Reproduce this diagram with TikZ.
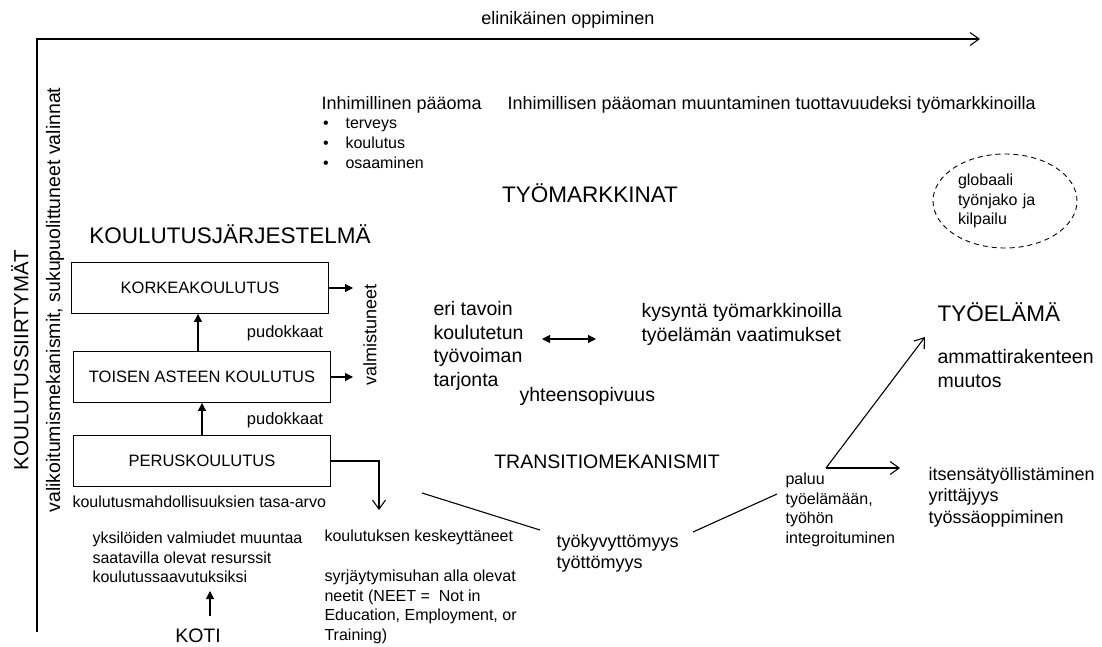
\documentclass[tikz,border=0pt]{standalone}
\usepackage{fontspec}
\setmainfont{Liberation Sans}
\usetikzlibrary{arrows.meta,shapes.geometric}

\begin{document}
\begin{tikzpicture}[x=1pt, y=-1pt, line width=1.1pt,
    txtsmall/.style={font=\fontsize{16}{19.5}\selectfont, inner sep=0pt},
    txtmid/.style={font=\fontsize{18}{21.5}\selectfont, inner sep=0pt},
    txtbig/.style={font=\fontsize{19.5}{23.5}\selectfont, inner sep=0pt},
    txthead/.style={font=\fontsize{22.5}{27}\selectfont, inner sep=0pt},
    level/.style={draw, line width=0.9pt, font=\fontsize{16.5}{19.5}\selectfont,
      minimum width=257pt, minimum height=51pt},
    solid tip/.style={-{Triangle[length=8pt,width=8pt]}},
    open tip/.style={-{Straight Barb[length=9pt,width=13pt]}}]
  \useasboundingbox (0,0) rectangle (1102,647);

  %% frame and lifelong learning axis
  \coordinate (corner) at (37,39);
  \coordinate (frameEnd) at (37,632);
  \coordinate (lifeEnd) at (980,39);
  \draw[open tip] (frameEnd) -- (corner) -- (lifeEnd);
  \node[txtmid, anchor=base] (life) at (568,25) {elinikäinen oppiminen};
  \node[txtbig, rotate=90, font=\fontsize{20.5}{24}\selectfont] (siirt) at (20,360) {KOULUTUSSIIRTYMÄT};
  \node[txtbig, rotate=90] (valik) at (55,300) {valikoitumismekanismit, sukupuolittuneet valinnat};

  %% human capital
  \node[txtmid, anchor=base west] (hcap) at (321,110) {Inhimillinen pääoma};
  \node[txtmid, anchor=base west] (convert) at (507,110) {Inhimillisen pääoman muuntaminen tuottavuudeksi työmarkkinoilla};
  \foreach \t [count=\i] in {terveys,koulutus,osaaminen} {
    \node[txtsmall, anchor=base] (dot\i) at (326,{108.5+20*\i}) {\textbullet};
    \node[txtsmall, anchor=base west] (item\i) at (345,{108.5+20*\i}) {\t};
  }
  \node[txthead, anchor=base] (market) at (590,203) {TYÖMARKKINAT};
  \node[draw, ellipse, dash pattern=on 5pt off 4pt, line width=0.9pt, txtsmall, align=left,
    text width=94pt, minimum width=144pt, minimum height=94pt] (glob) at (1005,201) {globaali\\työnjako ja\\kilpailu};

  %% education system
  \node[txthead, anchor=base] (system) at (230,243) {KOULUTUSJÄRJESTELMÄ};
  \node[level] (kork) at (200,288) {KORKEAKOULUTUS};
  \node[level] (toinen) at (202,377) {TOISEN ASTEEN KOULUTUS};
  \node[level] (perus) at (202,461) {PERUSKOULUTUS};
  \draw[solid tip] ([xshift=-4pt]toinen.north) -- ([xshift=-4pt]toinen.north |- kork.south);
  \draw[solid tip] (perus.north) -- (perus.north |- toinen.south);
  \node[txtsmall, font=\fontsize{16.5}{19.5}\selectfont] (drop1) at (285,333) {pudokkaat};
  \node[txtsmall, font=\fontsize{16.5}{19.5}\selectfont] (drop2) at (285,420) {pudokkaat};
  \node[txtmid, rotate=90] (grad) at (370,335) {valmistuneet};
  \coordinate (gradL) at (353,335);
  \draw[solid tip] (kork.east) -- (kork.east -| gradL);
  \draw[solid tip] (toinen.east) -- (toinen.east -| gradL);
  \coordinate (dropEnd) at (379,510);
  \draw[open tip] (perus.east) -| (dropEnd);
  \node[txtsmall, anchor=west] (equal) at (72,502) {koulutusmahdollisuuksien tasa-arvo};
  \node[txtsmall, anchor=north west, align=left] (indiv) at (92,531.5) {yksilöiden valmiudet muuntaa\\saatavilla olevat resurssit\\koulutussaavutuksiksi};
  \node[txtbig, anchor=base] (koti) at (198,642) {KOTI};
  \coordinate (kotiTip) at (210,591);
  \draw[solid tip] ([yshift=12pt]koti.north -| kotiTip) -- (kotiTip);

  %% dropping out
  \node[txtsmall, anchor=west] (quit) at (324,537) {koulutuksen keskeyttäneet};
  \node[txtsmall, anchor=north west, align=left] (neet) at (324,569.5) {syrjäytymisuhan alla olevat\\neetit (NEET = \ Not in\\Education, Employment, or\\Training)};

  %% matching on the labour market
  \node[txtbig, anchor=north west, align=left] (supply) at (433,301) {eri tavoin\\koulutetun\\työvoiman\\tarjonta};
  \node[txtbig, anchor=north west, align=left] (demand) at (641,303) {kysyntä työmarkkinoilla\\työelämän vaatimukset};
  \coordinate (fitL) at (542,339);
  \coordinate (fitR) at (596,339);
  \draw[{Triangle[length=8pt,width=8pt]}-{Triangle[length=8pt,width=8pt]}] (fitL) -- (fitR);
  \node[txtbig, anchor=west] (fit) at (519,396) {yhteensopivuus};
  \node[txtbig] (trans) at (607,462) {TRANSITIOMEKANISMIT};

  %% transitions
  \node[txtmid, anchor=north west, align=left] (unemp) at (556,533.5) {työkyvyttömyys\\työttömyys};
  \node[txtsmall, anchor=north west, align=left] (ret) at (785,472.5) {paluu\\työelämään,\\työhön\\integroituminen};
  \node[txthead, anchor=base west] (work) at (937,321) {TYÖELÄMÄ};
  \node[txtbig, anchor=north west, align=left] (occup) at (937,349) {ammattirakenteen\\muutos};
  \node[txtmid, anchor=north west, align=left] (self) at (928,466.5) {itsensätyöllistäminen\\yrittäjyys\\työssäoppiminen};
  \coordinate (quitLine) at (422,493);
  \draw (quitLine) -- ([shift={(-16,-3.5)}]unemp.north west);
  \draw ([shift={(137,-1.5)}]unemp.north west) -- ([shift={(-8,21.5)}]ret.north west);
  \coordinate (fork) at (826,468);
  \draw[open tip] (fork) -- ([shift={(-12,16)}]work.base west);
  \draw[open tip] (fork) -- ([shift={(-28,1.5)}]self.north west);
\end{tikzpicture}
\end{document}
